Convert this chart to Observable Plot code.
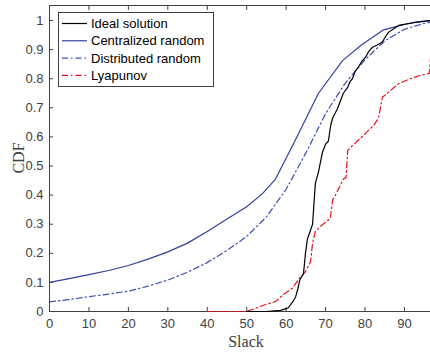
<!DOCTYPE html>
<html>
<head>
<meta charset="utf-8">
<script src="https://cdn.jsdelivr.net/npm/d3@7"></script>
<script src="https://cdn.jsdelivr.net/npm/@observablehq/plot@0.6"></script>
<style>
  html, body { margin: 0; padding: 0; background: #fff; }
  #chart { width: 430px; height: 352px; position: relative; }
</style>
</head>
<body>
<div id="chart"></div>
<script>
// ---- data (x = Slack, y = CDF) ----
const seriesNames = ["Ideal solution", "Centralized random", "Distributed random", "Lyapunov"];

const idealX = [50, 55, 57, 58.6, 60, 60.5, 61.6, 62.4, 63.0, 63.5, 64.4, 64.9, 65.4, 66.2, 66.7, 67.4, 68.2, 69.2, 70, 70.7, 71.3, 71.8, 73, 73.8, 74.5, 75.6, 76.2, 76.8, 77.5, 78.3, 79.2, 80.1, 81, 81.9, 83, 84.4, 85.2, 86, 87.3, 88.5, 90, 92.8, 96.6];
const idealY = [0, 0, 0.002, 0.004, 0.01, 0.012, 0.032, 0.05, 0.08, 0.11, 0.13, 0.2, 0.25, 0.28, 0.3, 0.44, 0.48, 0.547, 0.575, 0.585, 0.64, 0.665, 0.697, 0.725, 0.75, 0.77, 0.79, 0.8, 0.825, 0.84, 0.86, 0.873, 0.895, 0.908, 0.915, 0.926, 0.945, 0.96, 0.972, 0.983, 0.987, 0.993, 1.0];

const centralX = [0, 5, 10, 15, 20, 25, 30, 35, 40, 45, 50, 54, 57.3, 62, 68.2, 74.3, 79, 84.7, 89.5, 93, 96.6];
const centralY = [0.1, 0.113, 0.127, 0.141, 0.158, 0.18, 0.205, 0.235, 0.275, 0.318, 0.36, 0.405, 0.455, 0.58, 0.75, 0.862, 0.915, 0.968, 0.985, 0.995, 1.0];

const distribX = [0, 5, 10, 15, 20, 25, 30, 35, 40, 45, 50, 55, 60, 65, 70, 75, 80, 85, 90, 95, 96.6];
const distribY = [0.033, 0.041, 0.051, 0.06, 0.07, 0.087, 0.108, 0.135, 0.168, 0.21, 0.258, 0.325, 0.42, 0.545, 0.68, 0.785, 0.865, 0.93, 0.97, 0.99, 0.995];

const lyapX = [40, 50, 51, 52.2, 54.8, 57.3, 59.3, 61.6, 63.1, 64.9, 66.2, 66.7, 67.4, 69.2, 71.2, 71.8, 72.5, 74.5, 75.2, 75.6, 76.8, 79.6, 82.2, 83.4, 84.4, 86, 88.5, 91.5, 94, 96.3, 96.6];
const lyapY = [0, 0, 0.005, 0.011, 0.024, 0.034, 0.058, 0.08, 0.11, 0.137, 0.172, 0.235, 0.275, 0.298, 0.32, 0.384, 0.4, 0.455, 0.46, 0.553, 0.57, 0.605, 0.64, 0.663, 0.736, 0.754, 0.783, 0.8, 0.811, 0.818, 0.87];

const xTicks = [0, 10, 20, 30, 40, 50, 60, 70, 80, 90];
const yTicks = [0, 0.1, 0.2, 0.3, 0.4, 0.5, 0.6, 0.7, 0.8, 0.9, 1];

// ---- build tables ----
const toRows = (xs, ys) => xs.map((x, i) => ({x, y: ys[i]}));
const ideal = toRows(idealX, idealY);
const central = toRows(centralX, centralY);
const distrib = toRows(distribX, distribY);
const lyap = toRows(lyapX, lyapY);

const styles = [
  {stroke: "#000000", dash: null},
  {stroke: "#3340a0", dash: null},
  {stroke: "#3d4fb5", dash: "6,3,1.5,3"},
  {stroke: "#e8101c", dash: "6,3,1.5,3"}
];

const axisColor = "#404040";
const xMax = 96.6, yMax = 1.0515;

const plot = Plot.plot({
  width: 430,
  height: 352,
  marginLeft: 49,
  marginRight: 0,
  marginTop: 5,
  marginBottom: 41,
  style: {fontFamily: "'Liberation Sans', Arial, Helvetica, sans-serif", fontSize: "13px", background: "#fff", color: axisColor},
  x: {domain: [0, xMax], label: null},
  y: {domain: [0, yMax], label: null},
  marks: [
    // frame lines (left, bottom, top)
    Plot.ruleX([0], {stroke: axisColor, strokeWidth: 1}),
    Plot.ruleY([0], {stroke: axisColor, strokeWidth: 1}),
    Plot.ruleY([yMax], {stroke: axisColor, strokeWidth: 1}),
    // inward ticks
    Plot.axisX(xTicks, {anchor: "bottom", tickSize: -4, text: null, label: null, stroke: axisColor}),
    Plot.axisX(xTicks, {anchor: "top", tickSize: -4, text: null, label: null, stroke: axisColor}),
    Plot.axisY(yTicks, {anchor: "left", tickSize: -4, text: null, label: null, stroke: axisColor}),
    // tick labels
    Plot.axisX(xTicks, {anchor: "bottom", tickSize: 0, tickPadding: 7, label: null, fill: axisColor, fontSize: 13}),
    Plot.axisY(yTicks, {anchor: "left", tickSize: 0, tickPadding: 6, label: null, fill: axisColor, fontSize: 13, tickFormat: d => d3.format("")(+d.toFixed(1))}),
    // series
    Plot.line(central, {x: "x", y: "y", stroke: styles[1].stroke, strokeWidth: 1.2}),
    Plot.line(distrib, {x: "x", y: "y", stroke: styles[2].stroke, strokeWidth: 1.2, strokeDasharray: styles[2].dash}),
    Plot.line(lyap, {x: "x", y: "y", stroke: styles[3].stroke, strokeWidth: 1.2, strokeDasharray: styles[3].dash}),
    Plot.line(ideal, {x: "x", y: "y", stroke: styles[0].stroke, strokeWidth: 1.2})
  ]
});

document.getElementById("chart").appendChild(plot);

const svg = d3.select(plot);
// axis titles
svg.append("text")
  .attr("x", 246).attr("y", 347)
  .attr("text-anchor", "middle")
  .attr("font-family", "'Liberation Serif', 'Times New Roman', serif")
  .attr("font-size", 16)
  .attr("fill", axisColor)
  .text("Slack");
svg.append("text")
  .attr("transform", "translate(24,158) rotate(-90)")
  .attr("text-anchor", "middle")
  .attr("font-family", "'Liberation Serif', 'Times New Roman', serif")
  .attr("font-size", 16)
  .attr("fill", axisColor)
  .text("CDF");

// legend
const lg = svg.append("g").attr("transform", "translate(58,12)");
lg.append("rect").attr("x", 0.5).attr("y", 0.5).attr("width", 155).attr("height", 74)
  .attr("fill", "#fff").attr("stroke", axisColor).attr("stroke-width", 1);
seriesNames.forEach((name, i) => {
  const yy = 11.5 + i * 17.3;
  lg.append("line").attr("x1", 4).attr("x2", 29).attr("y1", yy).attr("y2", yy)
    .attr("stroke", styles[i].stroke).attr("stroke-width", 1.2)
    .attr("stroke-dasharray", styles[i].dash);
  lg.append("text").attr("x", 33).attr("y", yy).attr("dy", "0.35em")
    .attr("text-anchor", "start")
    .attr("font-family", "'Liberation Sans', Arial, Helvetica, sans-serif")
    .attr("font-size", 13).attr("fill", "#000").text(name);
});
</script>
</body>
</html>
